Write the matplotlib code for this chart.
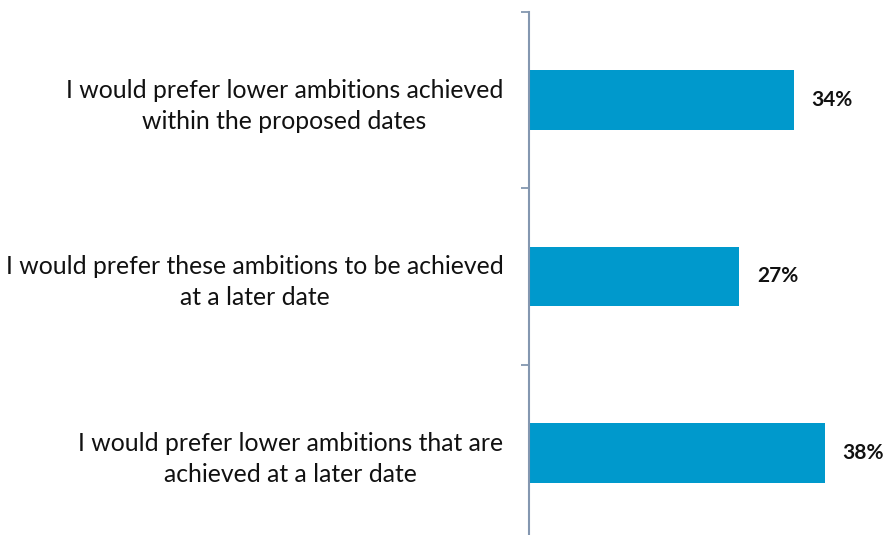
import matplotlib.pyplot as plt
from matplotlib.ticker import FixedLocator

# dados
categorias = [
    "I would prefer lower ambitions achieved\nwithin the proposed dates",
    "I would prefer these ambitions to be achieved\nat a later date",
    "I would prefer lower ambitions that are\nachieved at a later date",
]
valores = [34, 27, 38]
rotulos = ["34%", "27%", "38%"]

plt.rcParams['font.family'] = ['Lato', 'DejaVu Sans']

fig = plt.figure(figsize=(8.85, 5.35), dpi=100)
# eixo começa em x=529px, categorias de y=12px até ~541px
ax = fig.add_axes([529 / 885, (535 - 541) / 535, 356 / 885, 529 / 535])

pos = list(range(len(valores)))
ax.barh(pos, valores, height=0.34, color='#0099CC')
ax.set_xlim(0, 356 / 7.78)
ax.set_ylim(2.5, -0.5)

for p, v, r in zip(pos, valores, rotulos):
    ax.annotate(r, (v, p), xytext=(13, 0), textcoords='offset points',
                ha='left', va='center', fontsize=15, fontweight='bold', color='#111111')

ax.set_yticks(pos)
ax.set_yticklabels(categorias, fontsize=17.8, color='#111111', linespacing=1.42,
                   ha='right', multialignment='center')
ax.tick_params(axis='y', which='major', length=0, pad=18.5)
ax.yaxis.set_minor_locator(FixedLocator([-0.5, 0.5, 1.5, 2.5]))
ax.tick_params(axis='y', which='minor', length=6, width=1.3, color='#8497B0')
ax.set_xticks([])

for s in ['top', 'right', 'bottom']:
    ax.spines[s].set_visible(False)
ax.spines['left'].set_color('#8497B0')
ax.spines['left'].set_linewidth(1.5)

fig.savefig("out.png", dpi=100)
